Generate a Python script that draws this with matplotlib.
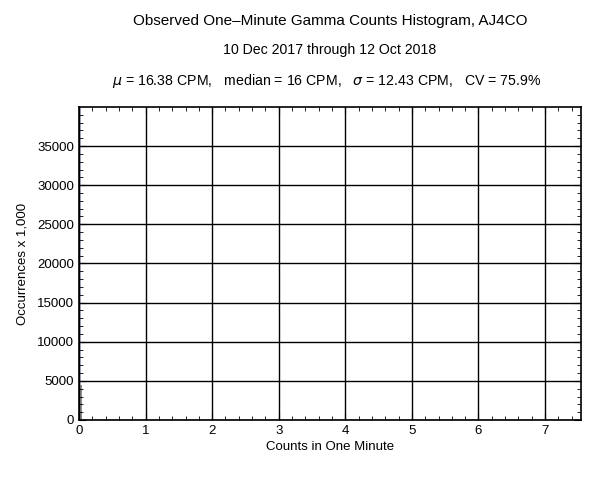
import matplotlib
matplotlib.use("Agg")
import matplotlib.pyplot as plt
from matplotlib.ticker import MultipleLocator

plt.rcParams['font.family'] = ['Liberation Sans', 'DejaVu Sans']

# Histogram bars (counts per minute bins, occurrences x 1000)
bin_left = [0.0, 0.0]
bin_width = [0.035, 0.045]
occurrences = [45000, 4500]
bar_colors = ['#c4cae6', '#8c8c8c']

title1 = "Observed One\u2013Minute Gamma Counts Histogram, AJ4CO"
title2 = "10 Dec 2017 through 12 Oct 2018"
title3 = r"$\mu$ = 16.38 CPM,   median = 16 CPM,   $\sigma$ = 12.43 CPM,   CV = 75.9%"

fig = plt.figure(figsize=(6.0, 4.79), dpi=100)
ax = fig.add_axes([79/600, 1-420/479, (581-79)/600, (420-107)/479])

for l, w, h, c in zip(bin_left, bin_width, occurrences, bar_colors):
    ax.bar(l, h, width=w, align='edge', color=c, edgecolor='none', zorder=1)

ax.set_xlim(0, 7.54)
ax.set_ylim(0, 39990)
ax.xaxis.set_major_locator(MultipleLocator(1))
ax.xaxis.set_minor_locator(MultipleLocator(0.2))
ax.yaxis.set_major_locator(MultipleLocator(5000))
ax.yaxis.set_minor_locator(MultipleLocator(1000))
ax.grid(True, which='major', color='black', linewidth=1.0, zorder=2)
ax.set_axisbelow(False)
ax.tick_params(which='both', direction='in', top=True, right=True, labelsize=9.5, color='black')
ax.tick_params(which='major', length=5)
ax.tick_params(which='minor', length=3)
for s in ax.spines.values():
    s.set_linewidth(1.2)

ax.set_xlabel("Counts in One Minute", fontsize=9.5, labelpad=3)
ax.set_ylabel("Occurrences x 1,000", fontsize=9.5, labelpad=6)

cx = (79 + 581) / 2 / 600
fig.text(cx, 1-21/479, title1, ha='center', va='center', fontsize=11)
fig.text(cx, 1-50/479, title2, ha='center', va='center', fontsize=10.2)
fig.text(cx - 3/600, 1-81/479, title3, ha='center', va='center', fontsize=10.2)

fig.savefig("out.png", dpi=100)
